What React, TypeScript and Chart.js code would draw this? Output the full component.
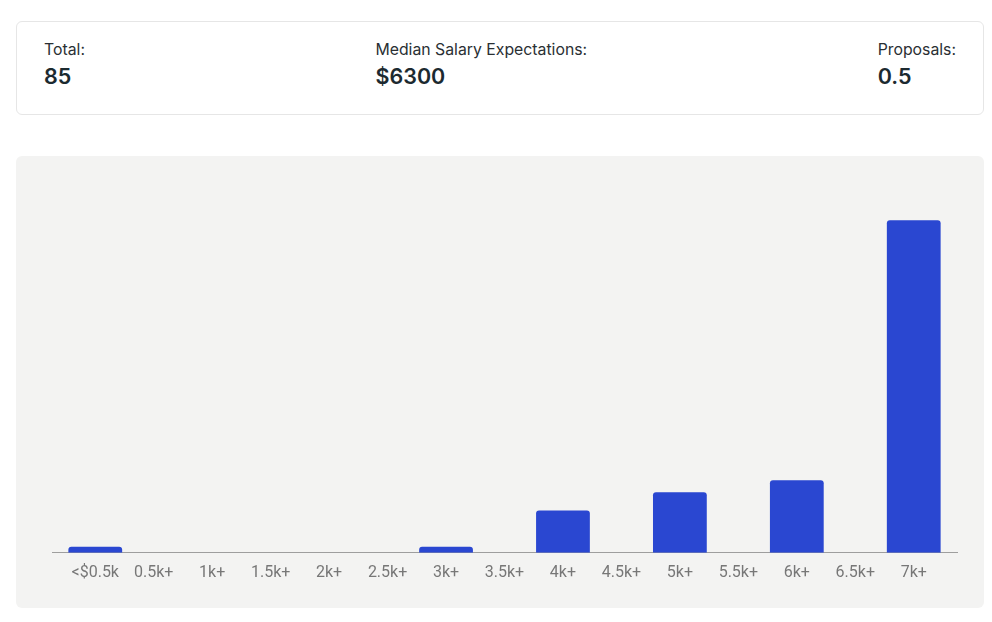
import React, { useEffect, useRef } from "react";
import { Chart, registerables } from "chart.js";

Chart.register(...registerables);

const categories = ["<$0.5k", "0.5k+", "1k+", "1.5k+", "2k+", "2.5k+", "3k+", "3.5k+", "4k+", "4.5k+", "5k+", "5.5k+", "6k+", "6.5k+", "7k+"];
const counts = [1, 0, 0, 0, 0, 0, 1, 0, 7, 0, 10, 0, 12, 0, 55];
const yMax = 60;

const statLabels = ["Total:", "Median Salary Expectations:", "Proposals:"];
const statValues = ["85", "$6300", "0.5"];

export default function App() {
  const canvasRef = useRef<HTMLCanvasElement | null>(null);

  useEffect(() => {
    if (!canvasRef.current) return;
    const chart = new Chart(canvasRef.current, {
      type: "bar",
      data: {
        datasets: [
          {
            data: counts.map((v, i) => ({ x: i, y: v })),
            backgroundColor: "#2a47d1",
            borderRadius: 3,
            borderSkipped: "start",
            barPercentage: 0.92,
            categoryPercentage: 1,
          },
        ],
      },
      options: {
        animation: false,
        responsive: true,
        maintainAspectRatio: false,
        layout: { padding: { left: 36, right: 27, top: 34, bottom: 14 } },
        plugins: { legend: { display: false }, tooltip: { enabled: false } },
        scales: {
          x: {
            type: "linear",
            bounds: "data",
            offset: false,
            min: -0.74,
            max: categories.length - 1 + 0.74,
            afterBuildTicks: (scale: any) => {
              scale.ticks = categories.map((_, i) => ({ value: i }));
            },
            grid: { display: false, drawTicks: false, tickLength: 0 },
            border: { display: true, color: "#9e9e9e", width: 1 },
            ticks: {
              autoSkip: false,
              maxRotation: 0,
              padding: 11,
              color: "#777777",
              font: { family: "Roboto", size: 16, lineHeight: 1.2 },
              callback: (v: any) => {
                const n = Number(v);
                return Number.isInteger(n) && categories[n] !== undefined ? categories[n] : "";
              },
            },
          },
          y: {
            display: false,
            min: 0,
            max: yMax,
          },
        },
      },
    });
    return () => chart.destroy();
  }, []);

  return (
    <div style={{ padding: "13px 0 0 8px", fontFamily: "Inter, 'Noto Sans', sans-serif" }}>
      <div
        style={{
          width: 968,
          height: 94,
          boxSizing: "border-box",
          border: "1px solid #e6e6e6",
          borderRadius: 6,
          background: "#ffffff",
          padding: "18px 27px 0 27px",
          display: "flex",
          justifyContent: "space-between",
        }}
      >
        {statLabels.map((l, i) => (
          <div key={l}>
            <div style={{ fontSize: 15.8, lineHeight: "20px", color: "#2a2f33" }}>{l}</div>
            <div style={{ fontSize: 21.5, lineHeight: "28px", fontWeight: 600, color: "#1c2a30", marginTop: 2 }}>
              {statValues[i]}
            </div>
          </div>
        ))}
      </div>
      <div
        style={{
          marginTop: 41,
          width: 968,
          height: 452,
          background: "#f3f3f2",
          borderRadius: 6,
          position: "relative",
        }}
      >
        <div style={{ position: "absolute", left: 0, top: 0, width: 968, height: 452 }}>
          <canvas ref={canvasRef} />
        </div>
      </div>
    </div>
  );
}
